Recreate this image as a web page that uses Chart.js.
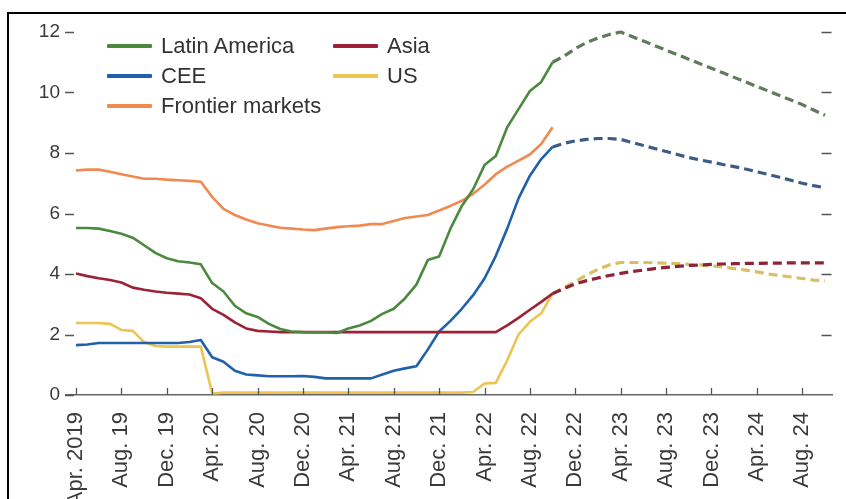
<!DOCTYPE html>
<html>
<head>
<meta charset="utf-8">
<script src="https://cdn.jsdelivr.net/npm/chart.js@4.4.1/dist/chart.umd.min.js"></script>
<style>
  html, body { margin: 0; padding: 0; width: 846px; height: 499px; overflow: hidden; background: #fff; }
  #wrap { position: absolute; left: 0; top: 0; width: 846px; height: 540px; }
  #frame { position: absolute; left: 7px; top: 12px; width: 860px; height: 560px;
           border-top: 2px solid #000; border-left: 2px solid #000; pointer-events: none; }
  #legend { position: absolute; left: 0; top: 0; font-family: "Liberation Sans", Arial, sans-serif;
            font-size: 22px; color: #333; }
  .li { position: absolute; white-space: nowrap; display: flex; align-items: center; height: 26px; }
  .sw { display: inline-block; width: 45px; height: 4px; margin-right: 9px; border-radius: 1px; }
</style>
</head>
<body>
<div id="wrap"><canvas id="c" width="846" height="540"></canvas></div>
<div id="legend"></div>
<div id="frame"></div>
<script>
// ---- data (monthly, Apr. 2019 = index 0; projections from Oct. 2022 = index 42) ----
const startLabel = "Apr. 2019";
const tickMonths = [0,4,8,12,16,20,24,28,32,36,40,44,48,52,56,60,64];
const tickLabels = ["Apr. 2019","Aug. 19","Dec. 19","Apr. 20","Aug. 20","Dec. 20","Apr. 21","Aug. 21",
                    "Dec. 21","Apr. 22","Aug. 22","Dec. 22","Apr. 23","Aug. 23","Dec. 23","Apr. 24","Aug. 24"];
const yTicks = [0,2,4,6,8,10,12];
const projectionStart = 42;

const seriesNames = ["Latin America","Asia","CEE","US","Frontier markets"];

const latinAmerica = [5.52,5.52,5.5,5.42,5.33,5.2,4.95,4.7,4.52,4.42,4.38,4.32,3.7,3.42,2.95,2.7,2.58,2.35,2.18,2.1,
  2.08,2.07,2.07,2.05,2.2,2.3,2.45,2.68,2.85,3.2,3.65,4.46,4.58,5.5,6.25,6.8,7.6,7.9,8.85,9.45,
  10.05,10.35,11.0,11.2,11.45,11.65,11.8,11.92,12.0,11.85,11.7,11.55,11.4,11.25,11.1,10.95,10.8,10.65,10.5,10.35,
  10.2,10.05,9.9,9.75,9.6,9.42,9.25];

const asia = [4.02,3.93,3.86,3.8,3.72,3.55,3.48,3.42,3.38,3.35,3.32,3.2,2.85,2.65,2.4,2.2,2.12,2.1,2.08,2.08,
  2.08,2.08,2.08,2.08,2.08,2.08,2.08,2.08,2.08,2.08,2.08,2.08,2.08,2.08,2.08,2.08,2.08,2.08,2.3,2.55,
  2.82,3.08,3.35,3.52,3.67,3.78,3.87,3.95,4.02,4.08,4.13,4.18,4.22,4.25,4.28,4.3,4.32,4.33,4.34,4.35,
  4.35,4.36,4.36,4.37,4.37,4.37,4.37];

const cee = [1.65,1.67,1.72,1.72,1.72,1.72,1.72,1.72,1.72,1.72,1.75,1.82,1.25,1.1,0.8,0.68,0.65,0.62,0.62,0.62,
  0.63,0.6,0.55,0.55,0.55,0.55,0.55,0.68,0.8,0.88,0.95,1.5,2.1,2.45,2.85,3.3,3.85,4.6,5.5,6.5,
  7.25,7.8,8.2,8.32,8.4,8.45,8.48,8.48,8.45,8.35,8.25,8.15,8.05,7.95,7.85,7.77,7.7,7.62,7.55,7.47,
  7.38,7.29,7.2,7.1,7.0,6.92,6.85];

const us = [2.38,2.38,2.38,2.35,2.15,2.12,1.75,1.62,1.6,1.6,1.6,1.6,0.05,0.08,0.08,0.08,0.08,0.08,0.08,0.08,
  0.08,0.08,0.08,0.08,0.08,0.08,0.08,0.08,0.08,0.08,0.08,0.08,0.08,0.08,0.08,0.1,0.38,0.4,1.15,2.0,
  2.42,2.7,3.35,3.55,3.75,3.97,4.15,4.3,4.38,4.38,4.38,4.37,4.36,4.34,4.32,4.3,4.27,4.23,4.18,4.13,
  4.07,4.0,3.95,3.9,3.85,3.8,3.77];

const frontier = [7.42,7.45,7.45,7.38,7.3,7.22,7.15,7.15,7.12,7.1,7.08,7.05,6.55,6.15,5.95,5.8,5.68,5.6,5.53,5.5,
  5.47,5.45,5.5,5.55,5.58,5.6,5.65,5.65,5.75,5.85,5.9,5.95,6.1,6.25,6.42,6.65,6.95,7.3,7.55,7.75,
  7.95,8.3,8.85];

// ---- styling ----
const colors = { la: "#4b8a3e", asia: "#9c2237", cee: "#2160ab", us: "#ecc44f", fm: "#ef8a50" };
const projColors = { la: "#607a5c", asia: "#8e2337", cee: "#3c5c86", us: "#d9bf62", fm: "#ef8a50" };

const toPts = arr => arr.map((v, i) => ({ x: i, y: v }));

function makeDs(label, arr, key) {
  return {
    label: label,
    data: toPts(arr),
    borderColor: colors[key],
    backgroundColor: colors[key],
    borderWidth: 2.6,
    pointRadius: 0,
    tension: 0,
    clip: false,
    borderJoinStyle: "round",
    segment: {
      borderDash: c => c.p0DataIndex >= projectionStart ? [9, 5] : undefined,
      borderColor: c => c.p0DataIndex >= projectionStart ? projColors[key] : undefined,
      borderWidth: c => c.p0DataIndex >= projectionStart ? 3.2 : undefined
    }
  };
}

const CANVAS_H = 540;
const AXIS_Y = 395;
const FONT = "'Liberation Sans', Arial, sans-serif";

const tickMarks = {
  id: "tickMarks",
  afterDatasetsDraw(chart) {
    const { ctx, chartArea, scales } = chart;
    const xs = scales.x, ys = scales.y;
    ctx.save();
    ctx.strokeStyle = "#555";
    ctx.lineWidth = 1.3;
    ctx.beginPath();
    xs.ticks.forEach(t => {
      const px = Math.round(xs.getPixelForValue(t.value)) + 0.5;
      ctx.moveTo(px, chartArea.bottom - 7);
      ctx.lineTo(px, chartArea.bottom);
    });
    ys.ticks.forEach(t => {
      const py = Math.round(ys.getPixelForValue(t.value)) + 0.5;
      ctx.moveTo(chartArea.left - 1, py);
      ctx.lineTo(chartArea.left + 8, py);
      if (t.value > 0) {
        ctx.moveTo(chartArea.right - 11, py);
        ctx.lineTo(chartArea.right - 1, py);
      }
    });
    ctx.stroke();
    ctx.restore();
  }
};

const chart = new Chart(document.getElementById("c"), {
  type: "line",
  data: {
    datasets: [
      makeDs(seriesNames[0], latinAmerica, "la"),
      makeDs(seriesNames[1], asia, "asia"),
      makeDs(seriesNames[2], cee, "cee"),
      makeDs(seriesNames[3], us, "us"),
      makeDs(seriesNames[4], frontier, "fm")
    ]
  },
  options: {
    responsive: false,
    animation: false,
    layout: { padding: { top: 32, right: 9, bottom: 0, left: 0 } },
    plugins: { legend: { display: false }, tooltip: { enabled: false } },
    scales: {
      x: {
        type: "linear",
        min: -0.88,
        max: 66.67,
        afterBuildTicks: s => { s.ticks = tickMonths.map(v => ({ value: v })); },
        afterFit: s => { s.height = CANVAS_H - AXIS_Y; },
        grid: { display: false, drawTicks: false },
        border: { display: true, color: "#666", width: 1.5 },
        ticks: {
          autoSkip: false,
          minRotation: 90,
          maxRotation: 90,
          padding: 17,
          color: "#3a3a3a",
          font: { family: FONT, size: 22 },
          callback: v => tickLabels[tickMonths.indexOf(v)]
        }
      },
      y: {
        min: 0,
        max: 12,
        afterBuildTicks: s => { s.ticks = yTicks.map(v => ({ value: v })); },
        afterFit: s => { s.width = 66; },
        grid: { display: false, drawTicks: false },
        border: { display: false },
        ticks: {
          padding: 6,
          color: "#3a3a3a",
          font: { family: FONT, size: 19 },
          callback: v => String(v)
        }
      }
    }
  },
  plugins: [tickMarks]
});

// ---- legend (HTML, built from the chart's datasets) ----
const legendSlots = [[0, 0], [1, 0], [0, 1], [1, 1], [0, 2]];
const colX = [107, 333];
const rowY = [46, 76, 106];
const legendEl = document.getElementById("legend");
chart.data.datasets.forEach((ds, i) => {
  const [c, r] = legendSlots[i];
  const item = document.createElement("div");
  item.className = "li";
  item.style.left = colX[c] + "px";
  item.style.top = (rowY[r] - 13) + "px";
  const sw = document.createElement("span");
  sw.className = "sw";
  sw.style.background = ds.borderColor;
  const tx = document.createElement("span");
  tx.textContent = ds.label;
  item.appendChild(sw);
  item.appendChild(tx);
  legendEl.appendChild(item);
});
</script>
</body>
</html>
